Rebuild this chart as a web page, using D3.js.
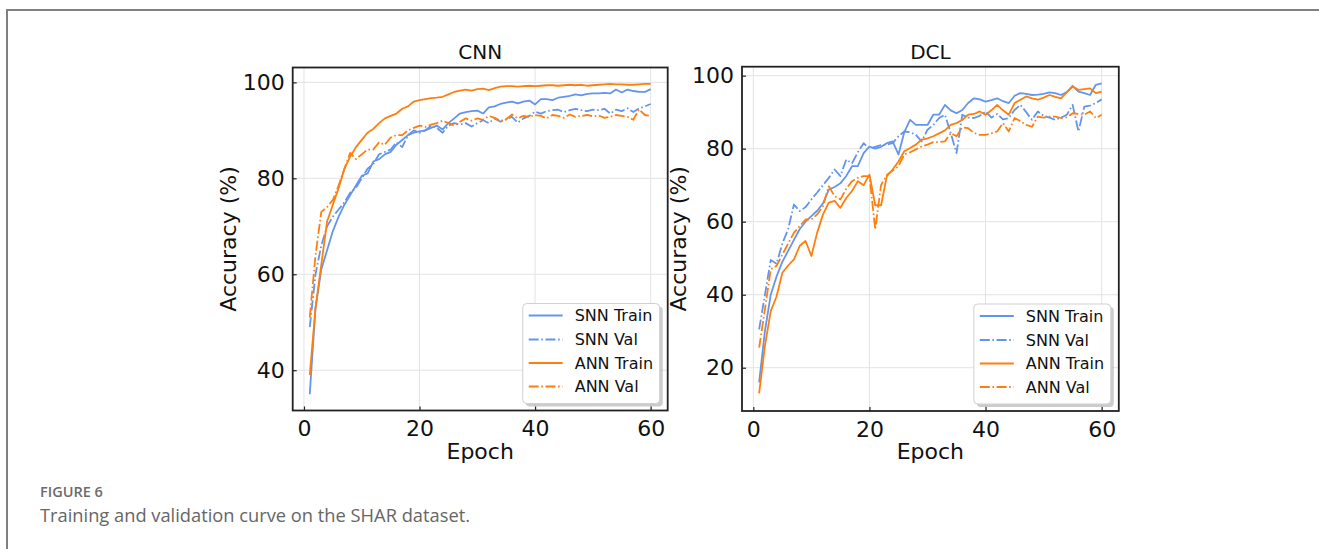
<!DOCTYPE html>
<html>
<head>
<meta charset="utf-8">
<script src="https://cdn.jsdelivr.net/npm/d3@7"></script>
<style>
  body { margin: 0; background: #fff; }
  svg { display: block; }
</style>
</head>
<body>
<div id="chart"></div>
<script>
var W = 1319, H = 549;

var epochs = d3.range(1, 61);
var seriesNames = ["SNN Train", "SNN Val", "ANN Train", "ANN Val"];
var xTicks = [0, 20, 40, 60];
var cnnYTicks = [40, 60, 80, 100];
var dclYTicks = [20, 40, 60, 80, 100];

// CNN panel
var cnnSnnTrain = [35, 53, 61, 65, 69, 72, 74.5, 76.5, 78.5, 80.5,
  81, 83.5, 84, 85, 85.5, 87, 88, 89, 89.5, 89.8,
  90, 90.5, 91, 90.2, 91.5, 92.5, 93.5, 93.8, 94, 94.1,
  93.5, 94.8, 95, 95.5, 95.8, 96, 95.6, 96, 96.2, 95.4,
  96.5, 96.5, 96.3, 96.8, 97, 97.2, 97.5, 97.3, 97.6, 97.7,
  97.7, 97.8, 97.7, 98.5, 97.9, 98.5, 98.2, 98, 98, 98.6];
var cnnSnnVal = [49, 60, 66, 70, 72, 73.5, 75, 77, 78, 80,
  82, 83, 85, 85.5, 86, 87.5, 86.5, 89, 90, 89.5,
  90, 91, 90.5, 89.5, 91, 91.5, 91.2, 91.5, 90.8, 91.5,
  92.1, 91.5, 92.5, 91.8, 92.3, 92.8, 91.6, 92.5, 93, 93.9,
  93.5, 94, 94.2, 94.3, 93.8, 94.2, 94.5, 94.2, 94, 94.3,
  94.2, 94.5, 93.5, 94.3, 94, 94.6, 93.8, 94.6, 95, 95.5];
var cnnAnnTrain = [39, 53, 62, 71, 74.5, 78, 82, 84.5, 86.5, 88,
  89.5, 90.3, 91.5, 92.5, 93, 93.5, 94.5, 95, 96, 96.3,
  96.5, 96.7, 96.8, 97, 97.5, 98, 98.3, 98.5, 98.3, 98.6,
  98.7, 98.4, 98.8, 99.1, 99.2, 99.2, 99.1, 99.2, 99.3, 99.2,
  99.3, 99.4, 99.4, 99.3, 99.4, 99.5, 99.4, 99.5, 99.3, 99.4,
  99.5, 99.6, 99.7, 99.6, 99.6, 99.5, 99.5, 99.6, 99.7, 99.7];
var cnnAnnVal = [51, 64, 73, 74, 75.5, 78.5, 82, 85.3, 84, 85,
  86, 86, 87.5, 87, 88.5, 89, 89, 90, 90.5, 91,
  90.7, 91.2, 91.5, 92, 91.5, 91, 91.8, 92.5, 92, 92.5,
  92.2, 93, 92.6, 92, 92.3, 93.3, 92.5, 93, 92.8, 93.2,
  93, 92.5, 93.2, 93, 92.6, 93.3, 92.8, 93, 93.2, 92.9,
  93.1, 92.6, 92.8, 93.2, 93, 92.8, 92.2, 94.4, 93.2, 93];

// DCL panel
var dclSnnTrain = [16, 30, 40, 45, 49, 52, 55, 58, 60, 61.5,
  63, 65, 68.8, 69.5, 70.5, 72.5, 75.2, 75.2, 78.8, 80.6,
  80, 80.5, 81.5, 82, 78.4, 84.5, 87.9, 86.5, 86.5, 86.5,
  89.3, 89.3, 92, 90.5, 89.7, 90.6, 92.5, 93.8, 93.5, 92.9,
  93.3, 93.8, 93, 92.5, 94.5, 95.2, 95, 94.7, 94.8, 95,
  95.4, 95.2, 94.7, 95.5, 97.2, 95.6, 95.2, 94.7, 97.5, 97.9];
var dclSnnVal = [30.5, 40, 49.5, 48.5, 54, 58, 64.7, 62.9, 64, 66.1,
  68, 70, 72, 74.3, 72.5, 77, 76, 79, 81.5, 80,
  80.5, 81, 81.1, 81.5, 83.4, 84.7, 84.5, 83.8, 82, 85.2,
  86.5, 88.4, 89.3, 84.3, 78.8, 89.3, 88.5, 88.4, 89, 90.2,
  88.5, 89.5, 88, 88.4, 90.6, 92, 90, 87.9, 90.2, 89,
  88.5, 87.9, 88.5, 89.3, 92, 84.7, 91.5, 91.8, 92.5, 93.5];
var dclAnnTrain = [13, 26, 35.5, 39.5, 46, 48, 49.7, 53.4, 54.7, 50.6,
  57, 62, 65.2, 65.7, 63.8, 66.5, 68.4, 71.1, 70, 72.9,
  64.5, 64.5, 72.5, 74.3, 76.5, 79.3, 80.2, 81.1, 82.5, 82.8,
  83.4, 84.2, 85, 86.5, 87, 87.9, 89.3, 89.5, 90.2, 89.3,
  90.5, 92, 90.5, 89.3, 92.5, 93.4, 94.3, 93.8, 93.4, 94,
  94.7, 94.2, 93.8, 95.5, 97, 96.1, 96.3, 96.5, 95.2, 95.6];
var dclAnnVal = [25.5, 36, 47, 47.9, 51, 54, 57, 58.8, 60.6, 60.6,
  62, 64.3, 69.7, 67, 66.1, 69, 71.1, 72, 72.5, 72.5,
  57.9, 70, 72.8, 74, 75.2, 78.4, 79, 79.8, 80.6, 81.1,
  81.8, 81.8, 82, 84.3, 83.4, 85.8, 85.6, 84.3, 83.8, 83.8,
  84.2, 84.7, 87, 84.7, 88.4, 87.5, 86.5, 86, 88.8, 88.5,
  88.8, 88.8, 88.4, 88.6, 89.7, 89.5, 89.3, 90.2, 88.4, 89.3];

var colors = ["#6495ed", "#6495ed", "#ff7f0e", "#ff7f0e"];
var dashes = [null, "10,2.6,1.6,2.6", null, "10,2.6,1.6,2.6"];
var font = "DejaVu Sans, sans-serif";

var svg = d3.select("#chart").append("svg")
    .attr("width", W)
    .attr("height", H);

// page frame
svg.append("line").attr("x1", 7).attr("x2", W).attr("y1", 10).attr("y2", 10)
    .attr("stroke", "#808080").attr("stroke-width", 2);
svg.append("line").attr("x1", 7).attr("x2", 7).attr("y1", 9).attr("y2", H)
    .attr("stroke", "#808080").attr("stroke-width", 2);

function panel(opt) {
  var x = d3.scaleLinear().domain([-1.95, 62.95]).range(opt.xr);
  var y = d3.scaleLinear().domain(opt.yd).range(opt.yr);
  var g = svg.append("g");
  var x0 = opt.xr[0], x1 = opt.xr[1], yb = opt.yr[0], yt = opt.yr[1];

  // grid
  g.selectAll(".gx").data(xTicks).enter().append("line")
      .attr("x1", function(d) { return x(d); }).attr("x2", function(d) { return x(d); })
      .attr("y1", yt).attr("y2", yb)
      .attr("stroke", "#e3e3e3").attr("stroke-width", 1);
  g.selectAll(".gy").data(opt.yTicks).enter().append("line")
      .attr("x1", x0).attr("x2", x1)
      .attr("y1", function(d) { return y(d); }).attr("y2", function(d) { return y(d); })
      .attr("stroke", "#e3e3e3").attr("stroke-width", 1);

  // lines
  opt.series.forEach(function(vals, i) {
    var line = d3.line()
        .x(function(d, j) { return x(epochs[j]); })
        .y(function(d) { return y(d); });
    g.append("path")
        .datum(vals)
        .attr("fill", "none")
        .attr("stroke", colors[i])
        .attr("stroke-width", 1.8)
        .attr("stroke-dasharray", dashes[i])
        .attr("stroke-linejoin", "round")
        .attr("d", line);
  });

  // axes with inward ticks
  var ax = g.append("g").attr("transform", "translate(0," + yb + ")")
      .call(d3.axisBottom(x).tickValues(xTicks).tickSizeInner(-4).tickSizeOuter(0).tickPadding(10));
  var ay = g.append("g").attr("transform", "translate(" + x0 + ",0)")
      .call(d3.axisLeft(y).tickValues(opt.yTicks).tickSizeInner(-4).tickSizeOuter(0).tickPadding(8));
  [ax, ay].forEach(function(a) {
    a.select(".domain").remove();
    a.selectAll(".tick line").attr("stroke", "#222").attr("stroke-width", 1.2);
    a.selectAll(".tick text").attr("fill", "#111").style("font-family", font).style("font-size", "22px");
  });

  // frame
  g.append("rect").attr("x", x0).attr("y", yt).attr("width", x1 - x0).attr("height", yb - yt)
      .attr("fill", "none").attr("stroke", "#222").attr("stroke-width", 1.8);

  var cx = (x0 + x1) / 2;
  g.append("text").attr("x", cx).attr("y", 59).attr("text-anchor", "middle")
      .style("font-family", font).style("font-size", "20px").attr("fill", "#111").text(opt.title);
  g.append("text").attr("x", cx).attr("y", 459).attr("text-anchor", "middle")
      .style("font-family", font).style("font-size", "22px").attr("fill", "#111").text("Epoch");
  g.append("text")
      .attr("transform", "translate(" + opt.ylabX + "," + ((yt + yb) / 2) + ") rotate(-90)")
      .attr("text-anchor", "middle")
      .style("font-family", font).style("font-size", "22px").attr("fill", "#111").text("Accuracy (%)");

  // legend
  var lw = 137, lh = 100, lx = x1 - 8 - lw, ly = yb - 7 - lh;
  var lg = g.append("g").attr("transform", "translate(" + lx + "," + ly + ")");
  lg.append("rect").attr("x", 3).attr("y", 3).attr("width", lw).attr("height", lh).attr("rx", 4)
      .attr("fill", "#999").attr("opacity", 0.5);
  lg.append("rect").attr("width", lw).attr("height", lh).attr("rx", 4)
      .attr("fill", "#fff").attr("stroke", "#d0d0d0").attr("stroke-width", 1);
  var rowY = [12, 36, 59.5, 83];
  seriesNames.forEach(function(name, i) {
    lg.append("line").attr("x1", 6).attr("x2", 40).attr("y1", rowY[i]).attr("y2", rowY[i])
        .attr("stroke", colors[i]).attr("stroke-width", 1.8).attr("stroke-dasharray", dashes[i]);
    lg.append("text").attr("x", 52).attr("y", rowY[i]).attr("dy", "0.36em")
        .style("font-family", font).style("font-size", "16px").attr("fill", "#111").text(name);
  });
}

panel({
  title: "CNN", xr: [292.7, 667.7], yd: [31.6, 103.1], yr: [410.5, 67.5],
  yTicks: cnnYTicks, ylabX: 236,
  series: [cnnSnnTrain, cnnSnnVal, cnnAnnTrain, cnnAnnVal]
});
panel({
  title: "DCL", xr: [742, 1118.8], yd: [8.15, 102.45], yr: [411, 66.7],
  yTicks: dclYTicks, ylabX: 686,
  series: [dclSnnTrain, dclSnnVal, dclAnnTrain, dclAnnVal]
});

// caption
svg.append("text").attr("x", 40).attr("y", 497)
    .style("font-family", "Open Sans, sans-serif").style("font-size", "14.5px").style("font-weight", "600")
    .attr("fill", "#6b6b6b").text("FIGURE 6");
svg.append("text").attr("x", 40).attr("y", 522)
    .style("font-family", "Open Sans, sans-serif").style("font-size", "18.3px")
    .attr("fill", "#666").text("Training and validation curve on the SHAR dataset.");
</script>
</body>
</html>
